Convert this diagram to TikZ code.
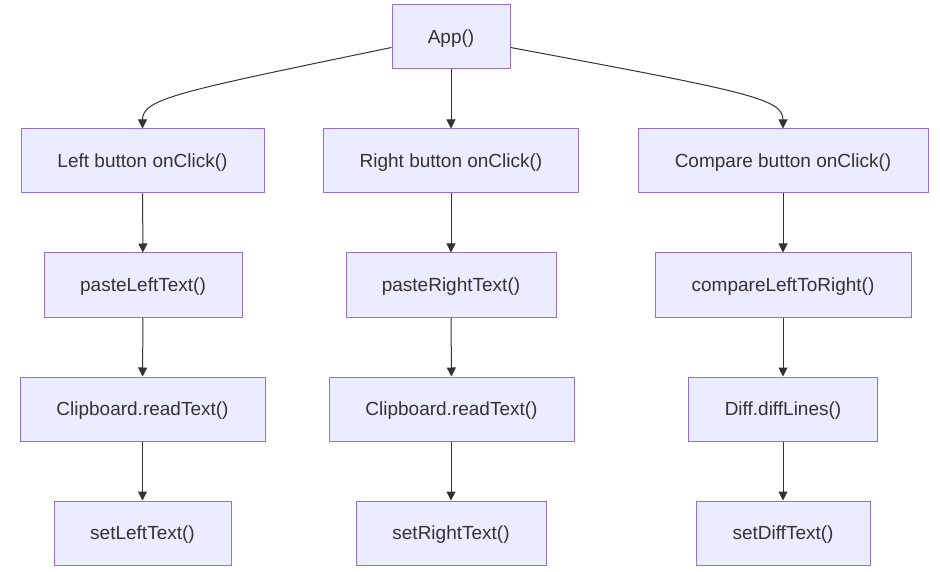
\documentclass[tikz,border=0pt]{standalone}
\usepackage{fontspec}
\setmainfont{Liberation Sans}
\usepackage{xcolor}
\definecolor{mmfill}{HTML}{ECECFF}
\definecolor{mmline}{HTML}{9370DB}
\definecolor{mmtext}{HTML}{333333}
\definecolor{mmedge}{HTML}{333333}
\usepackage{tikz}
\usetikzlibrary{arrows.meta, positioning, calc}

\tikzset{
  fnbox/.style={draw=mmline, fill=mmfill, line width=1pt, minimum height=64pt,
    inner sep=0pt, text=mmtext, text height=17pt, text depth=4pt,
    font=\fontsize{19}{22}\selectfont},
  flow/.style={draw=mmedge, line width=1pt, -{Triangle[length=9pt, width=9pt]}}
}

\begin{document}
\begin{tikzpicture}[x=1pt, y=-1pt]
  \useasboundingbox (0,0) rectangle (940,572);

  % --- Root ---
  \node[fnbox, minimum width=118pt] (app) at (451,37) {App()};

  % --- Left column ---
  \node[fnbox, minimum width=243pt] (lbtn)   at (142.5,161) {Left button onClick()};
  \node[fnbox, minimum width=198pt] (lpaste) at (143,285)   {pasteLeftText()};
  \node[fnbox, minimum width=245pt] (lread)  at (142.5,409) {Clipboard.readText()};
  \node[fnbox, minimum width=177pt] (lset)   at (142.5,533) {setLeftText()};

  % --- Middle column ---
  \node[fnbox, minimum width=255pt] (rbtn)   at (451,161)   {Right button onClick()};
  \node[fnbox, minimum width=210pt] (rpaste) at (451,285)   {pasteRightText()};
  \node[fnbox, minimum width=245pt] (rread)  at (451.5,409) {Clipboard.readText()};
  \node[fnbox, minimum width=190pt] (rset)   at (451,533)   {setRightText()};

  % --- Right column ---
  \node[fnbox, minimum width=290pt] (cbtn)   at (783,161)   {Compare button onClick()};
  \node[fnbox, minimum width=256pt] (cmp)    at (783,285)   {compareLeftToRight()};
  \node[fnbox, minimum width=189pt] (diff)   at (783,409)   {Diff.diffLines()};
  \node[fnbox, minimum width=174pt] (cset)   at (783,533)   {setDiffText()};

  % --- Edges from root ---
  \draw[flow] (app.190) .. controls ($(lbtn.north)+(37,-37)$) and ($(lbtn.north)+(0,-30)$) .. (lbtn.north);
  \draw[flow] (app.south) -- (rbtn.north);
  \draw[flow] (app.350) .. controls ($(cbtn.north)+(-37,-37)$) and ($(cbtn.north)+(0,-30)$) .. (cbtn.north);

  % --- Column chains ---
  \draw[flow] (lbtn) -- (lpaste);
  \draw[flow] (lpaste) -- (lread);
  \draw[flow] (lread) -- (lset);
  \draw[flow] (rbtn) -- (rpaste);
  \draw[flow] (rpaste) -- (rread);
  \draw[flow] (rread.south -| rpaste) -- (rset);
  \draw[flow] (cbtn) -- (cmp);
  \draw[flow] (cmp) -- (diff);
  \draw[flow] (diff) -- (cset);
\end{tikzpicture}
\end{document}
